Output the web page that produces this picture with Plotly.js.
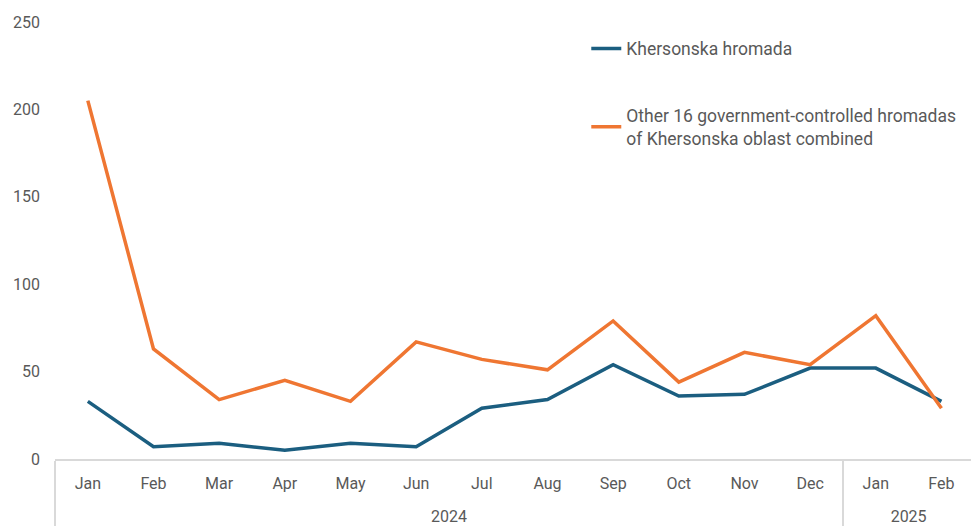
<!DOCTYPE html>
<html>
<head>
<meta charset="utf-8">
<script src="https://cdn.plot.ly/plotly-3.0.1.min.js"></script>
<style>html,body{margin:0;padding:0;background:#fff;}#chart{width:971px;height:526px;}</style>
</head>
<body>
<div id="chart"></div>
<script>
const years = ["2024","2024","2024","2024","2024","2024","2024","2024","2024","2024","2024","2024","2025","2025"];
const months = ["Jan","Feb","Mar","Apr","May","Jun","Jul","Aug","Sep","Oct","Nov","Dec","Jan","Feb"];
const khersonska = [33, 7, 9, 5, 9, 7, 29, 34, 54, 36, 37, 52, 52, 33];
const otherHromadas = [205, 63, 34, 45, 33, 67, 57, 51, 79, 44, 61, 54, 82, 29];
const seriesNames = ["Khersonska hromada", "Other 16 government-controlled hromadas<br>of Khersonska oblast combined"];

// outer-level labels pushed down one line so they sit below the month row
const yearLabels = years.map(y => "<br>" + y);

const FONT = "'Roboto', sans-serif";
const traces = [
  {x:[yearLabels, months], y:khersonska, type:"scatter", mode:"lines", name:seriesNames[0],
   legendgroup:"a", line:{color:"#1b5e80", width:3.5}},
  {x:[yearLabels, months], y:otherHromadas, type:"scatter", mode:"lines", name:seriesNames[1],
   legendgroup:"b", line:{color:"#ef7632", width:3.5}}
];
const layout = {
  width:971, height:526,
  margin:{l:55, r:0, t:22, b:67},
  paper_bgcolor:"#fff", plot_bgcolor:"#fff",
  font:{family:FONT, size:16, color:"#595959"},
  showlegend:true,
  legend:{x:0.58, y:0.98, xanchor:"left", yanchor:"top", tracegroupgap:41,
          font:{family:FONT, size:17.5, color:"#595959"}, bgcolor:"rgba(0,0,0,0)"},
  xaxis:{type:"multicategory", range:[-0.5, 13.45], showgrid:false, showline:true, linecolor:"#d9d9d9", linewidth:1.5,
         showdividers:true, dividercolor:"#d9d9d9", dividerwidth:1.5,
         ticks:"", ticklabelstandoff:9, zeroline:false,
         tickfont:{family:FONT, size:16, color:"#595959"}},
  yaxis:{range:[0,250], dtick:50, showgrid:false, zeroline:false, showline:false,
         ticklabelstandoff:14, tickfont:{family:FONT, size:16, color:"#595959"}}
};
Plotly.newPlot("chart", traces, layout, {displayModeBar:false, staticPlot:true});
</script>
</body>
</html>
